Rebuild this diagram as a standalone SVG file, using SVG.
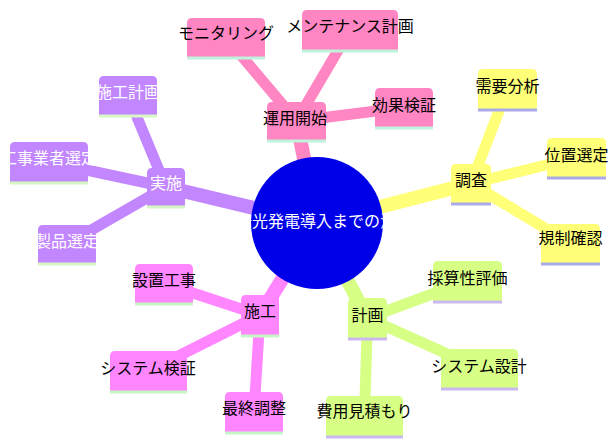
<svg xmlns="http://www.w3.org/2000/svg" width="616" height="447" viewBox="0 0 616 447">
<style>
text{font-family:"Noto Sans CJK JP","Noto Sans",sans-serif;font-size:16px;text-anchor:middle;fill:#000}
.e0{stroke-width:14;fill:none;stroke-linecap:butt}
.e1{stroke-width:11;fill:none;stroke-linecap:butt}
.s0 .bg{fill:#ffff78}.s0 .ln{stroke:#aaaae8}.se0{stroke:#ffff78}
.s1 .bg{fill:#d7ff86}.s1 .ln{stroke:#c9b9ee}.se1{stroke:#d7ff86}
.s2 .bg{fill:#c286ff}.s2 .ln{stroke:#d6f7c4}.se2{stroke:#c286ff}
.s2 text{fill:#fff}
.s3 .bg{fill:#ff86ff}.s3 .ln{stroke:#c6f5c6}.se3{stroke:#ff86ff}
.s4 .bg{fill:#ff86c2}.s4 .ln{stroke:#c0f2dc}.se4{stroke:#ff86c2}
.ln{stroke-width:3}
</style>
<rect width="616" height="447" fill="#fff"/>
<g id="connectors">
<line class="e0 se0" x1="317" y1="223" x2="471" y2="183.5"/>
<line class="e1 se0" x1="471" y1="183.5" x2="507.5" y2="89"/>
<line class="e1 se0" x1="471" y1="183.5" x2="576.5" y2="157.5"/>
<line class="e1 se0" x1="471" y1="183.5" x2="570.5" y2="243.5"/>
<line class="e0 se1" x1="317" y1="223" x2="367.5" y2="318"/>
<line class="e1 se1" x1="367.5" y1="318" x2="467.5" y2="281"/>
<line class="e1 se1" x1="367.5" y1="318" x2="479.5" y2="368.5"/>
<line class="e1 se1" x1="367.5" y1="318" x2="364.5" y2="416"/>
<line class="e0 se2" x1="317" y1="223" x2="166" y2="187"/>
<line class="e1 se2" x1="166" y1="187" x2="128" y2="95.5"/>
<line class="e1 se2" x1="166" y1="187" x2="49" y2="162"/>
<line class="e1 se2" x1="166" y1="187" x2="67" y2="244"/>
<line class="e0 se3" x1="317" y1="223" x2="260" y2="315"/>
<line class="e1 se3" x1="260" y1="315" x2="164" y2="283.5"/>
<line class="e1 se3" x1="260" y1="315" x2="148.5" y2="371"/>
<line class="e1 se3" x1="260" y1="315" x2="254" y2="412"/>
<line class="e0 se4" x1="317" y1="223" x2="296.5" y2="121"/>
<line class="e1 se4" x1="296.5" y1="121" x2="226" y2="37.5"/>
<line class="e1 se4" x1="296.5" y1="121" x2="350" y2="30"/>
<line class="e1 se4" x1="296.5" y1="121" x2="404" y2="107.5"/>
</g>
<g id="root">
<clipPath id="rc"><circle cx="317" cy="223" r="66"/></clipPath>
<circle cx="317" cy="223" r="66" fill="#0000e8"/>
<text x="316" y="227" fill="#fff" style="fill:#fff" clip-path="url(#rc)">太陽光発電導入までの流れ</text>
</g>
<g id="n-chosa" class="s0" transform="translate(451,164)"><path class="bg" d="M0 34V5Q0 0 5 0H35Q40 0 40 5V39H0Z"/><line class="ln" x1="0" y1="40" x2="40" y2="40"/><text x="20" y="22">調査</text></g>
<g id="n-juyo" class="s0" transform="translate(478,69)"><path class="bg" d="M0 35V5Q0 0 5 0H54Q59 0 59 5V40H0Z"/><line class="ln" x1="0" y1="41" x2="59" y2="41"/><text x="29.5" y="23">需要分析</text></g>
<g id="n-ichi" class="s0" transform="translate(547,138)"><path class="bg" d="M0 34V5Q0 0 5 0H54Q59 0 59 5V39H0Z"/><line class="ln" x1="0" y1="40" x2="59" y2="40"/><text x="29.5" y="23">位置選定</text></g>
<g id="n-kisei" class="s0" transform="translate(541,224)"><path class="bg" d="M0 34V5Q0 0 5 0H54Q59 0 59 5V39H0Z"/><line class="ln" x1="0" y1="40" x2="59" y2="40"/><text x="29.5" y="20">規制確認</text></g>
<g id="n-keikaku" class="s1" transform="translate(348,298)"><path class="bg" d="M0 35V5Q0 0 5 0H34Q39 0 39 5V40H0Z"/><line class="ln" x1="0" y1="41" x2="39" y2="41"/><text x="19.5" y="23">計画</text></g>
<g id="n-saisan" class="s1" transform="translate(433,261)"><path class="bg" d="M0 35V5Q0 0 5 0H64Q69 0 69 5V40H0Z"/><line class="ln" x1="0" y1="41" x2="69" y2="41"/><text x="34.5" y="23">採算性評価</text></g>
<g id="n-sekkei" class="s1" transform="translate(441,349)"><path class="bg" d="M0 34V5Q0 0 5 0H72Q77 0 77 5V39H0Z"/><line class="ln" x1="0" y1="40" x2="77" y2="40"/><text x="38" y="23">システム設計</text></g>
<g id="n-hiyo" class="s1" transform="translate(326,396)"><path class="bg" d="M0 35V5Q0 0 5 0H72Q77 0 77 5V40H0Z"/><line class="ln" x1="0" y1="41" x2="77" y2="41"/><text x="38.5" y="21">費用見積もり</text></g>
<g id="n-jisshi" class="s2" transform="translate(147,168)"><path class="bg" d="M0 33V5Q0 0 5 0H33Q38 0 38 5V38H0Z"/><line class="ln" x1="0" y1="39" x2="38" y2="39"/><text x="19" y="21">実施</text></g>
<g id="n-sekokeikaku" class="s2" transform="translate(99,76)"><path class="bg" d="M0 34V5Q0 0 5 0H53Q58 0 58 5V39H0Z"/><line class="ln" x1="0" y1="40" x2="58" y2="40"/><text x="29" y="22">施工計画</text></g>
<g id="n-gyosha" class="s2" transform="translate(10,142)"><path class="bg" d="M0 35V5Q0 0 5 0H73Q78 0 78 5V40H0Z"/><line class="ln" x1="0" y1="41" x2="78" y2="41"/><text x="39" y="22">工事業者選定</text></g>
<g id="n-seihin" class="s2" transform="translate(38,225)"><path class="bg" d="M0 33V5Q0 0 5 0H53Q58 0 58 5V38H0Z"/><line class="ln" x1="0" y1="39" x2="58" y2="39"/><text x="29" y="22">製品選定</text></g>
<g id="n-seko" class="s3" transform="translate(241,295)"><path class="bg" d="M0 35V5Q0 0 5 0H33Q38 0 38 5V40H0Z"/><line class="ln" x1="0" y1="41" x2="38" y2="41"/><text x="19" y="22">施工</text></g>
<g id="n-secchi" class="s3" transform="translate(135,264)"><path class="bg" d="M0 34V5Q0 0 5 0H53Q58 0 58 5V39H0Z"/><line class="ln" x1="0" y1="40" x2="58" y2="40"/><text x="29" y="22">設置工事</text></g>
<g id="n-kensho" class="s3" transform="translate(110,351)"><path class="bg" d="M0 35V5Q0 0 5 0H72Q77 0 77 5V40H0Z"/><line class="ln" x1="0" y1="41" x2="77" y2="41"/><text x="38" y="23">システム検証</text></g>
<g id="n-saishu" class="s3" transform="translate(225,392)"><path class="bg" d="M0 35V5Q0 0 5 0H53Q58 0 58 5V40H0Z"/><line class="ln" x1="0" y1="41" x2="58" y2="41"/><text x="29" y="22">最終調整</text></g>
<g id="n-unyo" class="s4" transform="translate(267,102)"><path class="bg" d="M0 33V5Q0 0 5 0H54Q59 0 59 5V38H0Z"/><line class="ln" x1="0" y1="39" x2="59" y2="39"/><text x="28" y="22">運用開始</text></g>
<g id="n-monitor" class="s4" transform="translate(187,18)"><path class="bg" d="M0 34V5Q0 0 5 0H73Q78 0 78 5V39H0Z"/><line class="ln" x1="0" y1="40" x2="78" y2="40"/><text x="39" y="21">モニタリング</text></g>
<g id="n-maint" class="s4" transform="translate(302,10)"><path class="bg" d="M0 35V5Q0 0 5 0H91Q96 0 96 5V40H0Z"/><line class="ln" x1="0" y1="41" x2="96" y2="41"/><text x="48" y="22">メンテナンス計画</text></g>
<g id="n-koka" class="s4" transform="translate(375,88)"><path class="bg" d="M0 34V5Q0 0 5 0H53Q58 0 58 5V39H0Z"/><line class="ln" x1="0" y1="40" x2="58" y2="40"/><text x="29" y="23">効果検証</text></g>
</svg>
